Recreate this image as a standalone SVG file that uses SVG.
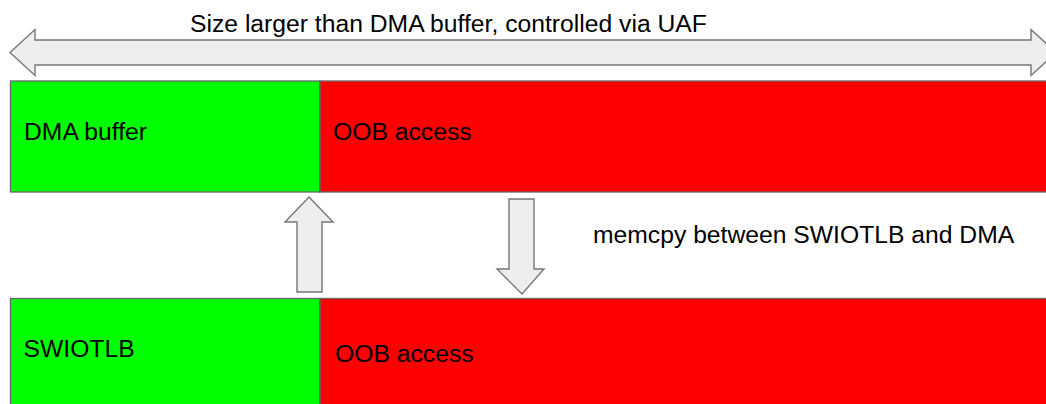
<svg xmlns="http://www.w3.org/2000/svg" width="1046" height="404" viewBox="0 0 1046 404">
<style>
.t{font-family:"Liberation Sans",Arial,sans-serif;font-size:24.7px;fill:#000}
.g{fill:#00ff00;stroke:#666;stroke-width:1.3}
.r{fill:#ff0000;stroke:#666;stroke-width:1.3}
.a{fill:#eeeeee;stroke:#777;stroke-width:1.4;stroke-linejoin:miter}
</style>
<rect width="1046" height="404" fill="#fff"/>
<g id="size-arrow">
<polygon class="a" points="10,52.5 35,29.5 35,40 1031,40 1031,29.5 1056,52.5 1031,75.5 1031,65 35,65 35,75.5"/>
<text class="t" x="190" y="31.5">Size larger than DMA buffer, controlled via UAF</text>
</g>
<g id="dma-buffer">
<rect class="g" x="10.5" y="81" width="309.5" height="111"/>
<text class="t" x="24" y="140">DMA buffer</text>
</g>
<g id="dma-oob">
<rect class="r" x="320" y="81" width="740" height="111"/>
<text class="t" x="333" y="140">OOB access</text>
</g>
<g id="swiotlb">
<rect class="g" x="10.5" y="298.5" width="309.5" height="120"/>
<text class="t" x="23.5" y="357">SWIOTLB</text>
</g>
<g id="swiotlb-oob">
<rect class="r" x="320" y="298.5" width="740" height="120"/>
<text class="t" x="335" y="362">OOB access</text>
</g>
<g id="connectors">
<polygon class="a" points="309,197 333,222 322,222 322,292 297,292 297,222 285,222"/>
<polygon class="a" points="509,199 534,199 534,269 544,269 522,294 497,269 509,269"/>
</g>
<text class="t" x="593" y="243">memcpy between SWIOTLB and DMA</text>
</svg>
